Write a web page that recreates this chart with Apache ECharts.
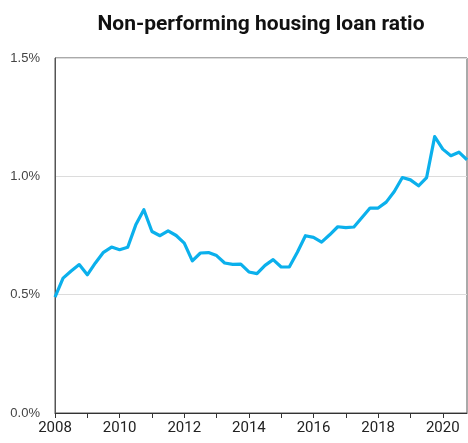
<!DOCTYPE html>
<html>
<head>
<meta charset="utf-8">
<script src="https://cdn.jsdelivr.net/npm/echarts@6/dist/echarts.min.js"></script>
<style>
  html, body { margin: 0; padding: 0; background: #fff; }
  #chart { width: 468px; height: 443px; }
</style>
</head>
<body>
<div id="chart"></div>
<script>
// Quarterly observations, Q1 2008 to Q4 2020 (per cent of housing loans)
const firstYear = 2008;
const ratio = [
  0.49, 0.57, 0.60, 0.627, 0.584, 0.634, 0.679, 0.701,
  0.690, 0.700, 0.795, 0.859, 0.767, 0.749, 0.770, 0.750,
  0.718, 0.643, 0.676, 0.678, 0.665, 0.634, 0.628, 0.629,
  0.596, 0.589, 0.624, 0.648, 0.617, 0.617, 0.679, 0.749,
  0.742, 0.722, 0.753, 0.787, 0.783, 0.786, 0.826, 0.866,
  0.866, 0.891, 0.936, 0.995, 0.985, 0.960, 0.995, 1.168,
  1.115, 1.087, 1.102, 1.070
];
const yearTicks = [2008, 2009, 2010, 2011, 2012, 2013, 2014, 2015, 2016, 2017, 2018, 2019, 2020];
const yearLabels = [2008, 2010, 2012, 2014, 2016, 2018, 2020];

const points = ratio.map((v, i) => [firstYear + i / 4, v]);

const chart = echarts.init(document.getElementById('chart'));
chart.setOption({
  animation: false,
  title: {
    text: 'Non-performing housing loan ratio',
    left: 256,
    top: 9,
    textAlign: 'center',
    textStyle: {
      fontFamily: '"Roboto", "Liberation Sans", sans-serif',
      fontWeight: 'bold',
      fontSize: 21,
      color: '#111'
    }
  },
  grid: {
    left: 55, right: 1, top: 58, bottom: 30,
    show: true,
    borderColor: '#555',
    borderWidth: 1,
    containLabel: false
  },
  xAxis: {
    type: 'value',
    min: 2008,
    max: 2020.75,
    axisLine: { show: true, lineStyle: { color: '#333', width: 1 } },
    axisTick: {
      show: true, inside: false, length: 5,
      customValues: yearTicks,
      lineStyle: { color: '#333' }
    },
    axisLabel: {
      customValues: yearLabels,
      formatter: v => String(v),
      margin: 8,
      fontFamily: '"Roboto", "Liberation Sans", sans-serif',
      fontSize: 15,
      color: '#222'
    },
    splitLine: { show: false }
  },
  yAxis: {
    type: 'value',
    min: 0,
    max: 1.5,
    interval: 0.5,
    axisLine: { show: true, lineStyle: { color: '#555', width: 1 } },
    axisTick: { show: false },
    axisLabel: {
      formatter: v => v.toFixed(1) + '%',
      margin: 15,
      fontFamily: '"Liberation Sans", Arial, sans-serif',
      fontSize: 13,
      color: '#444'
    },
    splitLine: { show: true, lineStyle: { color: '#dcdcdc', width: 1 } }
  },
  series: [{
    type: 'line',
    data: points,
    showSymbol: false,
    symbol: 'none',
    lineStyle: { color: '#0bb0ec', width: 3.2, join: 'round' },
    clip: true
  }]
});
</script>
</body>
</html>
